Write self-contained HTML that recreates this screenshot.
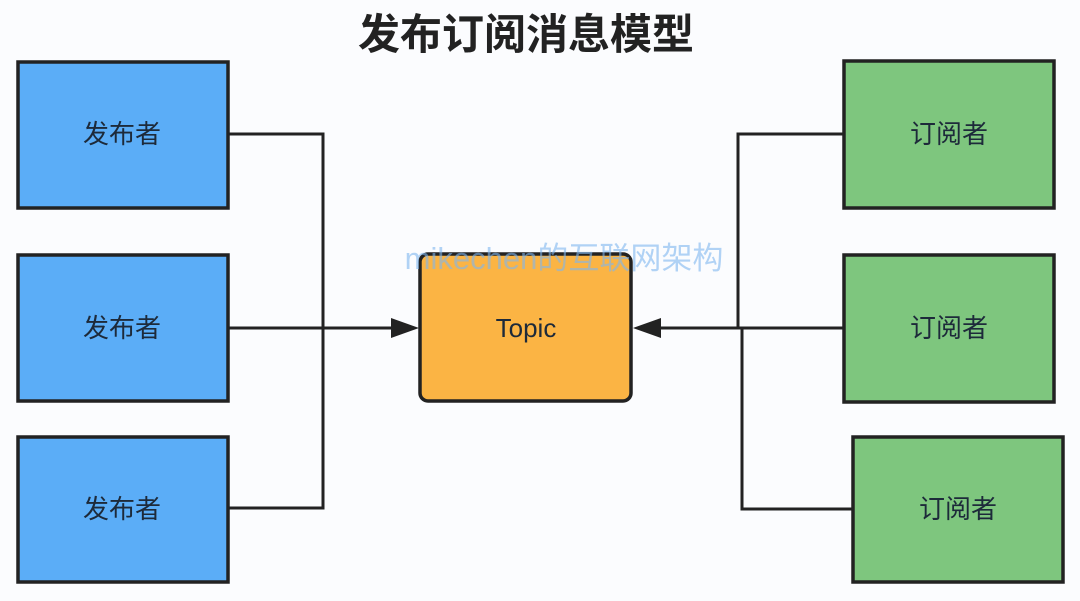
<!DOCTYPE html>
<html><head><meta charset="utf-8"><style>
html,body{margin:0;padding:0;background:#fbfcfe;}
svg{display:block}
</style></head><body>
<svg width="1080" height="601" viewBox="0 0 1080 601" xmlns="http://www.w3.org/2000/svg">
<rect width="1080" height="601" fill="#fbfcfe"/>
<text x="526" y="49" text-anchor="middle" font-family="'Liberation Sans','Noto Sans CJK SC',sans-serif" font-size="42" font-weight="bold" fill="#222">发布订阅消息模型</text>
<g stroke="#222" stroke-width="3" fill="none">
<polyline points="229,134 323,134 323,508 229,508"/>
<line x1="229" y1="328" x2="395" y2="328"/>
<polyline points="843,134 738,134 738,328"/>
<polyline points="742,328 742,509 852,509"/>
<line x1="843" y1="328" x2="656" y2="328"/>
</g>
<polygon points="419,328 391,318 391,338" fill="#222"/>
<polygon points="633,328 661,318 661,338" fill="#222"/>
<g stroke="#222" stroke-width="3.5">
<rect x="18" y="62" width="210" height="146" fill="#5badf7"/>
<rect x="18" y="255" width="210" height="146" fill="#5badf7"/>
<rect x="18" y="437" width="210" height="145" fill="#5badf7"/>
<rect x="844" y="61" width="210" height="147" fill="#7ec67e"/>
<rect x="844" y="255" width="210" height="147" fill="#7ec67e"/>
<rect x="853" y="437" width="210" height="145" fill="#7ec67e"/>
<rect x="420" y="254" width="211" height="147" rx="8" fill="#fbb444"/>
</g>
<g font-family="'Liberation Sans','Noto Sans CJK SC',sans-serif" font-size="26" fill="#1d2a3a" text-anchor="middle">
<text x="122" y="143">发布者</text>
<text x="122" y="337">发布者</text>
<text x="122" y="518">发布者</text>
<text x="949" y="143">订阅者</text>
<text x="949" y="337">订阅者</text>
<text x="958" y="518">订阅者</text>
<text x="526" y="337">Topic</text>
</g>
<text x="564" y="269" text-anchor="middle" font-family="'Liberation Sans','Noto Sans CJK SC',sans-serif" font-size="31" fill="#7fb6ee" fill-opacity="0.6">mikechen的互联网架构</text>
</svg>
</body></html>
